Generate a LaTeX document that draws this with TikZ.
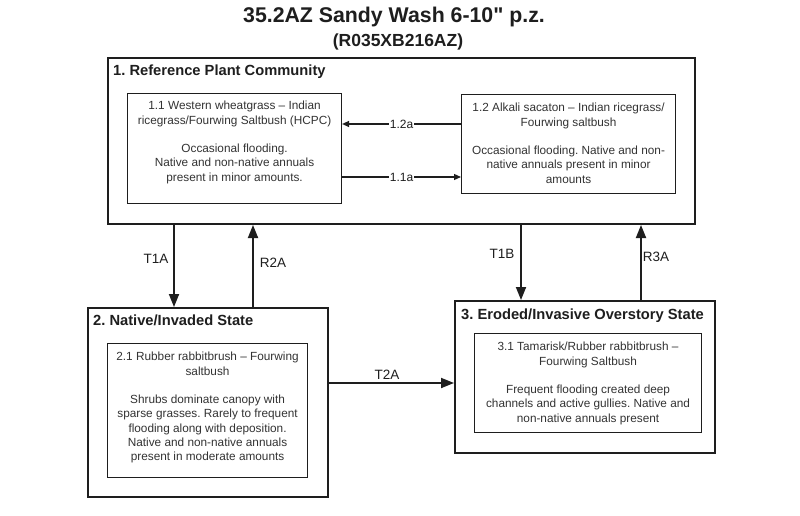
\documentclass[tikz,border=0pt]{standalone}
\usepackage{fontspec}
\setmainfont{Liberation Sans}
\usetikzlibrary{arrows.meta,calc}
\definecolor{ink}{HTML}{1E1E1E}
\definecolor{txt}{HTML}{333333}
\frenchspacing
\begin{document}
\begin{tikzpicture}[x=1pt,y=-1pt,
  outerbox/.style={draw=ink,line width=2pt,inner sep=0pt,anchor=north west},
  innerbox/.style={draw=ink,line width=1.1pt,inner sep=0pt,anchor=north west},
  bodytext/.style={anchor=north,inner sep=0pt,align=center,text=txt,
    font=\frenchspacing\fontsize{11.8}{14.3}\selectfont},
  statetitle/.style={anchor=base west,inner sep=0pt,text=ink,
    font=\frenchspacing\bfseries\fontsize{14.7}{17}\selectfont},
  bigarrow/.style={draw=ink,line width=1.8pt,-{Triangle[width=10pt,length=13pt]}},
  smallarrow/.style={draw=ink,line width=1.2pt,-{Triangle[width=6pt,length=7pt]}},
  translabel/.style={anchor=base,inner sep=0pt,text=ink,font=\fontsize{13.5}{16}\selectfont},
  pathlabel/.style={fill=white,inner sep=1pt,text=ink,font=\fontsize{12}{14}\selectfont}
]
\useasboundingbox (0,0) rectangle (800,516);
\fill[white] (0,0) rectangle (800,516);

% titles
\node[anchor=base,inner sep=0pt,text=ink,font=\frenchspacing\bfseries\fontsize{21.3}{24}\selectfont\addfontfeatures{Ligatures=TeXOff}] (title) at (394,23) {35.2AZ Sandy Wash 6-10" p.z.};
\node[anchor=base,inner sep=0pt,text=ink,font=\bfseries\fontsize{17.5}{20}\selectfont] (subtitle) at (398,47) {(R035XB216AZ)};

% state boxes
\node[outerbox,minimum width=587pt,minimum height=166pt] (s1) at (107,57) {};
\node[outerbox,minimum width=240pt,minimum height=189pt] (s2) at (87,307) {};
\node[outerbox,minimum width=260pt,minimum height=152pt] (s3) at (454,300) {};

\node[statetitle] (s1t) at (113,76) {1. Reference Plant Community};
\node[statetitle] (s2t) at (93,325) {2. Native/Invaded State};
\node[statetitle] (s3t) at (461,319) {3. Eroded/Invasive Overstory State};

% community boxes
\node[innerbox,minimum width=214pt,minimum height=110pt] (c11) at (127,93) {};
\node[innerbox,minimum width=214pt,minimum height=99pt] (c12) at (461,94) {};
\node[innerbox,minimum width=200pt,minimum height=134pt] (c21) at (107,343) {};
\node[innerbox,minimum width=227pt,minimum height=99pt] (c31) at (474,333) {};

\node[bodytext] (c11t) at ($(c11.north)+(0,8)$) {1.1 Western wheatgrass – Indian\\ricegrass/Fourwing Saltbush (HCPC)\\[14.3pt]Occasional flooding.\\Native and non-native annuals\\present in minor amounts.};
\node[bodytext] (c12t) at ($(c12.north)+(0,9)$) {1.2 Alkali sacaton – Indian ricegrass/\\Fourwing saltbush\\[14.3pt]Occasional flooding. Native and non-\\native annuals present in minor\\amounts};
\node[bodytext] (c21t) at ($(c21.north)+(0,9)$) {2.1 Rubber rabbitbrush – Fourwing\\saltbush\\[14.3pt]Shrubs dominate canopy with\\sparse grasses. Rarely to frequent\\flooding along with deposition.\\Native and non-native annuals\\present in moderate amounts};
\node[bodytext] (c31t) at ($(c31.north)+(0,9)$) {3.1 Tamarisk/Rubber rabbitbrush –\\Fourwing Saltbush\\[14.3pt]Frequent flooding created deep\\channels and active gullies. Native and\\non-native annuals present};

% pathways inside state 1
\draw[smallarrow] (c12.west |- 0,124) -- node[pathlabel] {1.2a} (c11.east |- 0,124);
\draw[smallarrow] (c11.east |- 0,177) -- node[pathlabel] {1.1a} (c12.west |- 0,177);

% transitions
\draw[bigarrow] (s1.south -| 174,0) -- (s2.north -| 174,0);
\draw[bigarrow] (s2.north -| 253,0) -- (s1.south -| 253,0);
\draw[bigarrow] (s1.south -| 521,0) -- (s3.north -| 521,0);
\draw[bigarrow] (s3.north -| 641,0) -- (s1.south -| 641,0);
\draw[bigarrow] (s2.east |- 0,383) -- (s3.west |- 0,383);

\node[translabel] (l1) at (156,263) {T1A};
\node[translabel] (l2) at (273,267) {R2A};
\node[translabel] (l3) at (502,258) {T1B};
\node[translabel] (l4) at (656,261) {R3A};
\node[translabel] (l5) at (387,379) {T2A};
\end{tikzpicture}
\end{document}
